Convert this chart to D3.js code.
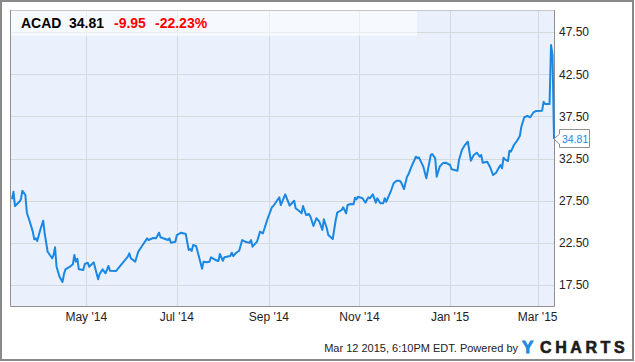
<!DOCTYPE html>
<html>
<head>
<meta charset="utf-8">
<script src="https://cdn.jsdelivr.net/npm/d3@7"></script>
<style>
  html, body { margin: 0; padding: 0; background: #fff; }
  svg { display: block; font-family: "Liberation Sans", Arial, sans-serif; }
</style>
</head>
<body>
<svg id="chart" width="635" height="362"></svg>
<script>
// ACAD daily close
const dates = [
  "2014-03-12","2014-03-13","2014-03-14","2014-03-17","2014-03-18","2014-03-19","2014-03-21","2014-03-22",
  "2014-03-24","2014-03-26","2014-03-27","2014-03-28","2014-03-29","2014-03-31","2014-04-02","2014-04-03",
  "2014-04-05","2014-04-07","2014-04-08","2014-04-09","2014-04-10","2014-04-11","2014-04-12","2014-04-13",
  "2014-04-15","2014-04-16","2014-04-17","2014-04-20","2014-04-22","2014-04-23","2014-04-24","2014-04-25",
  "2014-04-26","2014-04-29","2014-04-30","2014-05-02","2014-05-03","2014-05-06","2014-05-09","2014-05-10",
  "2014-05-12","2014-05-14","2014-05-16","2014-05-17","2014-05-21","2014-05-29","2014-05-30","2014-05-31",
  "2014-06-03","2014-06-05","2014-06-08","2014-06-11","2014-06-12","2014-06-15","2014-06-17","2014-06-19",
  "2014-06-20","2014-06-25","2014-06-26","2014-06-27","2014-06-30","2014-07-01","2014-07-04","2014-07-07",
  "2014-07-09","2014-07-10","2014-07-11","2014-07-12","2014-07-14","2014-07-16","2014-07-18","2014-07-19",
  "2014-07-21","2014-07-23","2014-07-24","2014-07-27","2014-07-29","2014-07-30","2014-08-01","2014-08-02",
  "2014-08-06","2014-08-07","2014-08-08","2014-08-10","2014-08-12","2014-08-14","2014-08-16","2014-08-19",
  "2014-08-20","2014-08-21","2014-08-24","2014-08-26","2014-08-28","2014-08-31","2014-09-03","2014-09-04",
  "2014-09-08","2014-09-09","2014-09-12","2014-09-15","2014-09-18","2014-09-19","2014-09-22","2014-09-23",
  "2014-09-24","2014-09-26","2014-09-28","2014-09-29","2014-10-01","2014-10-03","2014-10-05","2014-10-07",
  "2014-10-08","2014-10-10","2014-10-11","2014-10-14","2014-10-16","2014-10-17","2014-10-20","2014-10-21",
  "2014-10-23","2014-10-24","2014-10-26","2014-10-28","2014-10-29","2014-10-30","2014-10-31","2014-11-02",
  "2014-11-03","2014-11-05","2014-11-07","2014-11-08","2014-11-10","2014-11-12","2014-11-13","2014-11-15",
  "2014-11-17","2014-11-18","2014-11-19","2014-11-22","2014-11-24","2014-11-26","2014-11-28","2014-11-29",
  "2014-12-01","2014-12-03","2014-12-04","2014-12-06","2014-12-09","2014-12-10","2014-12-11","2014-12-14",
  "2014-12-16","2014-12-19","2014-12-20","2014-12-22","2014-12-23","2014-12-25","2014-12-27","2014-12-29",
  "2015-01-01","2015-01-02","2015-01-06","2015-01-07","2015-01-09","2015-01-11","2015-01-13","2015-01-15",
  "2015-01-17","2015-01-19","2015-01-21","2015-01-22","2015-01-23","2015-01-26","2015-01-28","2015-01-30",
  "2015-02-01","2015-02-03","2015-02-04","2015-02-05","2015-02-06","2015-02-07","2015-02-09","2015-02-10",
  "2015-02-11","2015-02-13","2015-02-15","2015-02-17","2015-02-18","2015-02-20","2015-02-22","2015-02-24",
  "2015-02-26","2015-02-28","2015-03-04","2015-03-05","2015-03-06","2015-03-09","2015-03-10","2015-03-11",
  "2015-03-12"
]
const prices = [
  27.66,28.56,26.86,27.37,27.66,28.68,28.17,26.07,
  25.00,23.82,22.91,23.03,22.71,24.02,25.12,23.63,
  21.44,20.93,20.66,21.05,21.96,19.66,19.07,18.48,
  17.85,18.80,19.35,19.66,19.95,21.05,20.26,20.61,
  19.35,19.27,19.98,20.14,19.66,20.18,18.17,18.80,
  19.35,18.88,19.75,19.19,19.15,20.85,21.25,20.66,
  20.26,21.44,22.24,23.03,22.83,23.07,23.03,23.70,
  23.15,22.83,23.03,22.51,22.63,23.42,23.70,23.54,
  21.64,21.76,21.53,22.24,22.12,20.78,19.43,20.26,
  20.18,20.26,20.78,20.46,20.34,21.17,20.37,20.78,
  20.93,21.32,20.93,21.32,21.56,22.83,22.63,22.51,
  22.83,22.04,22.63,23.82,23.63,25.29,26.71,26.86,
  27.90,26.98,28.25,26.90,27.49,26.59,26.19,26.00,
  26.86,25.80,25.92,25.59,24.49,25.41,25.00,24.02,
  25.29,24.22,23.42,22.95,25.20,26.07,26.39,26.71,
  26.00,26.98,27.10,27.07,27.85,27.66,27.97,27.85,
  27.78,27.26,27.90,27.78,28.25,27.26,27.78,27.18,
  27.18,27.78,27.37,28.56,29.56,29.87,29.87,29.68,
  28.88,30.34,30.63,31.53,32.71,32.56,32.64,31.53,
  30.15,32.92,33.03,32.52,30.34,31.53,31.93,32.00,
  31.73,31.22,31.05,32.32,33.51,34.10,34.49,32.24,
  32.92,33.19,32.71,32.92,32.00,32.12,31.46,30.54,
  30.81,31.46,31.73,31.34,32.59,32.40,32.20,33.43,
  33.31,34.10,34.58,35.17,36.27,37.39,37.54,37.39,
  37.93,38.14,38.17,39.24,38.97,38.97,45.97,44.76,
  34.81
]

const header = ["ACAD", "34.81", "-9.95", "-22.23%"]
const yTicks = [17.5, 22.5, 27.5, 32.5, 37.5, 42.5, 47.5]
const xTicks = ["2014-05-01", "2014-07-01", "2014-09-01", "2014-11-01", "2015-01-01", "2015-03-01"]
const footer = "Mar 12 2015, 6:10PM EDT. Powered by"

const parse = d3.timeParse("%Y-%m-%d")
const series = dates.map((d, i) => ({date: parse(d), value: prices[i]}))

const plotL = 11, plotR = 554, plotT = 11, plotB = 306

const x = d3.scaleTime()
    .domain([parse("2014-03-12"), parse("2015-03-12")])
    .range([12, 554])
const y = d3.scaleLinear()
    .domain([15, 50])
    .range([plotB, plotT])

const svg = d3.select("#chart")

// outer frame
svg.append("rect")
    .attr("x", 1).attr("y", 1)
    .attr("width", 632).attr("height", 359)
    .attr("fill", "#fff")
    .attr("stroke", "#8a8a8a")
    .attr("stroke-width", 2)

// plot background
svg.append("rect")
    .attr("x", plotL).attr("y", plotT)
    .attr("width", plotR - plotL).attr("height", plotB - plotT)
    .attr("fill", "#eaf1fc")

// grid
svg.append("g")
    .selectAll("line")
    .data(yTicks)
    .join("line")
    .attr("x1", plotL).attr("x2", plotR)
    .attr("y1", d => Math.round(y(d)) + 0.5)
    .attr("y2", d => Math.round(y(d)) + 0.5)
    .attr("stroke", "#d5d8dd")

svg.append("g")
    .selectAll("line")
    .data(xTicks.map(parse))
    .join("line")
    .attr("x1", d => Math.round(x(d)) + 0.5)
    .attr("x2", d => Math.round(x(d)) + 0.5)
    .attr("y1", plotT).attr("y2", plotB)
    .attr("stroke", "#d5d8dd")

// header band
svg.append("rect")
    .attr("x", plotL).attr("y", plotT)
    .attr("width", 406).attr("height", 25)
    .attr("fill", "#fff")
    .attr("opacity", 0.55)

// plot border
svg.append("line")
    .attr("x1", plotL).attr("x2", plotR)
    .attr("y1", plotT - 0.5).attr("y2", plotT - 0.5)
    .attr("stroke", "#c8c8c8")
svg.append("path")
    .attr("d", `M${plotL - 0.5},${plotT - 1}V${plotB + 0.5}H${plotR + 0.5}V${plotT - 1}`)
    .attr("fill", "none")
    .attr("stroke", "#8f8f8f")

// price line
const line = d3.line()
    .x(d => x(d.date))
    .y(d => y(d.value))

svg.append("path")
    .datum(series)
    .attr("fill", "none")
    .attr("stroke", "#1a88e3")
    .attr("stroke-width", 2)
    .attr("stroke-linejoin", "round")
    .attr("d", line)

// y axis labels
svg.append("g")
    .selectAll("text")
    .data(yTicks)
    .join("text")
    .attr("x", 559)
    .attr("y", d => y(d))
    .attr("dy", "0.36em")
    .attr("font-size", 12)
    .attr("fill", "#222")
    .text(d => d3.format(".2f")(d))

// x axis labels
const fmt = d3.timeFormat("%b '%y")
svg.append("g")
    .selectAll("text")
    .data(xTicks.map(parse))
    .join("text")
    .attr("x", d => x(d))
    .attr("y", 321)
    .attr("text-anchor", "middle")
    .attr("font-size", 12)
    .attr("fill", "#222")
    .text(d => fmt(d))

// last price callout
const last = series[series.length - 1]
const ly = y(last.value)
svg.append("path")
    .attr("d", `M${plotR},${ly}L${559.5},${ly - 5}V${ly - 9.5}H${589.5}V${ly + 8.5}H${559.5}V${ly + 5}Z`)
    .attr("fill", "#fff")
    .attr("stroke", "#8f8f8f")
svg.append("text")
    .attr("x", 562)
    .attr("y", ly)
    .attr("dy", "0.36em")
    .attr("font-size", 10.5)
    .attr("fill", "#1a88e3")
    .text(d3.format(".2f")(last.value))

// header text
const headerX = [21, 69, 114, 155]
const headerFill = ["#000", "#000", "#f00", "#f00"]
svg.append("g")
    .selectAll("text")
    .data(header)
    .join("text")
    .attr("x", (d, i) => headerX[i])
    .attr("y", 28)
    .attr("font-size", 14)
    .attr("font-weight", "bold")
    .attr("fill", (d, i) => headerFill[i])
    .text(d => d)

// footer
svg.append("text")
    .attr("x", 518)
    .attr("y", 352)
    .attr("text-anchor", "end")
    .attr("font-size", 11)
    .attr("fill", "#222")
    .text(footer)

// YCHARTS logo, thickened with a stroke
svg.append("text")
    .attr("x", 522)
    .attr("y", 353)
    .attr("font-size", 17)
    .attr("font-weight", "bold")
    .attr("fill", "#1a88e3")
    .attr("stroke", "#1a88e3")
    .attr("stroke-width", 0.8)
    .text("Y")
svg.append("text")
    .attr("x", 540)
    .attr("y", 353)
    .attr("font-size", 16)
    .attr("font-weight", "bold")
    .attr("letter-spacing", 3.6)
    .attr("fill", "#1c1c1c")
    .attr("stroke", "#1c1c1c")
    .attr("stroke-width", 0.6)
    .text("CHARTS")
</script>
</body>
</html>
